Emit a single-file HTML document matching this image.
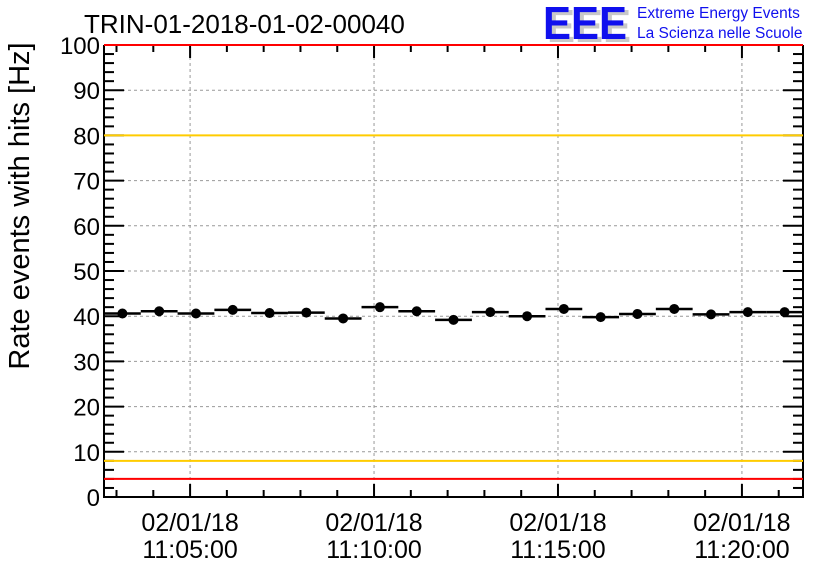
<!DOCTYPE html>
<html><head><meta charset="utf-8"><style>
body{margin:0;background:#fff;}
svg text{font-family:"Liberation Sans",sans-serif;}
</style></head><body>
<svg id="chart" width="836" height="572" viewBox="0 0 836 572" xmlns="http://www.w3.org/2000/svg">
<rect width="836" height="572" fill="#fff"/>
<text x="84" y="33" font-size="26">TRIN-01-2018-01-02-00040</text>
<g>
<text x="547" y="42" font-size="46" font-weight="bold" fill="#c8c8c8" textLength="84" lengthAdjust="spacingAndGlyphs">EEE</text>
<text x="543" y="39" font-size="46" font-weight="bold" fill="#1010ee" textLength="84" lengthAdjust="spacingAndGlyphs">EEE</text>
<text x="637" y="18" font-size="15.5" fill="#1010ee">Extreme Energy Events</text>
<text x="637" y="38" font-size="15.5" fill="#1010ee">La Scienza nelle Scuole</text>
</g>
<text transform="translate(29,206) rotate(-90)" text-anchor="middle" font-size="29">Rate events with hits [Hz]</text>
<g id="grid"></g><g id="axes"></g><g id="marks"></g>
</svg>
<script>
const values=[40.6,41.1,40.6,41.4,40.7,40.8,39.5,42.0,41.1,39.2,40.9,40.0,41.6,39.8,40.5,41.6,40.4,40.9,40.9];
const binStartMin=[2.66,3.66,4.66,5.66,6.66,7.66,8.66,9.66,10.66,11.66,12.66,13.66,14.66,15.66,16.66,17.66,18.66,19.66,20.66];
const yTicks=[0,10,20,30,40,50,60,70,80,90,100];
const xTickMin=[5,10,15,20];
const xTickLabels=["11:05:00","11:10:00","11:15:00","11:20:00"];
const refLines=[{v:4,c:"#ff0000"},{v:8,c:"#ffcc00"},{v:80,c:"#ffcc00"},{v:100,c:"#ff0000"}];
const L=104,R=803,T=45,B=497,tMin=2.66,tMax=21.66;
const X=t=>L+(t-tMin)/(tMax-tMin)*(R-L);
const Y=v=>B-v/100*(B-T);
const NS="http://www.w3.org/2000/svg";
function mk(p,tag,a){const e=document.createElementNS(NS,tag);for(const k in a)e.setAttribute(k,a[k]);p.appendChild(e);return e;}
const grid=document.getElementById('grid'),axes=document.getElementById('axes'),marks=document.getElementById('marks');
yTicks.forEach(v=>{
 if(v>0&&v<100){const g=mk(grid,'line',{x1:L,x2:R,y1:Y(v),y2:Y(v),stroke:'#999','stroke-dasharray':'3,3','stroke-width':1});
 
 }
 const t=mk(axes,'text',{x:L-4,y:Y(v)+9,'text-anchor':'end','font-size':24});t.textContent=v;
 
 
 mk(axes,'line',{x1:L,x2:L+20,y1:Y(v),y2:Y(v),stroke:'#000','stroke-width':2});
 mk(axes,'line',{x1:R,x2:R-20,y1:Y(v),y2:Y(v),stroke:'#000','stroke-width':2});
});
for(let v=2;v<100;v+=2){if(v%10==0)continue;
 mk(axes,'line',{x1:L,x2:L+10,y1:Y(v),y2:Y(v),stroke:'#000','stroke-width':2});
 mk(axes,'line',{x1:R,x2:R-10,y1:Y(v),y2:Y(v),stroke:'#000','stroke-width':2});}
for(let m=3;m<=21;m++){const big=m%5==0;const len=big?13:7;
 mk(axes,'line',{x1:X(m),x2:X(m),y1:B,y2:B-len,stroke:'#000','stroke-width':2});
 mk(axes,'line',{x1:X(m),x2:X(m),y1:T,y2:T+len,stroke:'#000','stroke-width':2});}
xTickMin.forEach((m,i)=>{
 const g=mk(grid,'line',{x1:X(m),x2:X(m),y1:T,y2:B,stroke:'#999','stroke-dasharray':'3,3','stroke-width':1});
 
 
 const a=mk(axes,'text',{x:X(m),y:531,'text-anchor':'middle','font-size':25});a.textContent='02/01/18';
 
 
 const b=mk(axes,'text',{x:X(m),y:558,'text-anchor':'middle','font-size':25});b.textContent=xTickLabels[i];
 
 
});
refLines.forEach(r=>{const l=mk(marks,'line',{x1:L,x2:R,y1:Y(r.v),y2:Y(r.v),stroke:r.c,'stroke-width':2});
 
 });
mk(axes,'path',{d:`M${L},${T}V${B}H${R}V${T}`,fill:'none',stroke:'#000','stroke-width':2});
values.forEach((v,i)=>{const x0=X(binStartMin[i]),x1=X(binStartMin[i]+1),y=Y(v);
 const h=mk(marks,'line',{x1:x0,x2:x1,y1:y,y2:y,stroke:'#000','stroke-width':2.5});
 
 
 const c=mk(marks,'circle',{cx:(x0+x1)/2,cy:y,r:5,fill:'#000'});
 
 });
</script>
</body></html>
